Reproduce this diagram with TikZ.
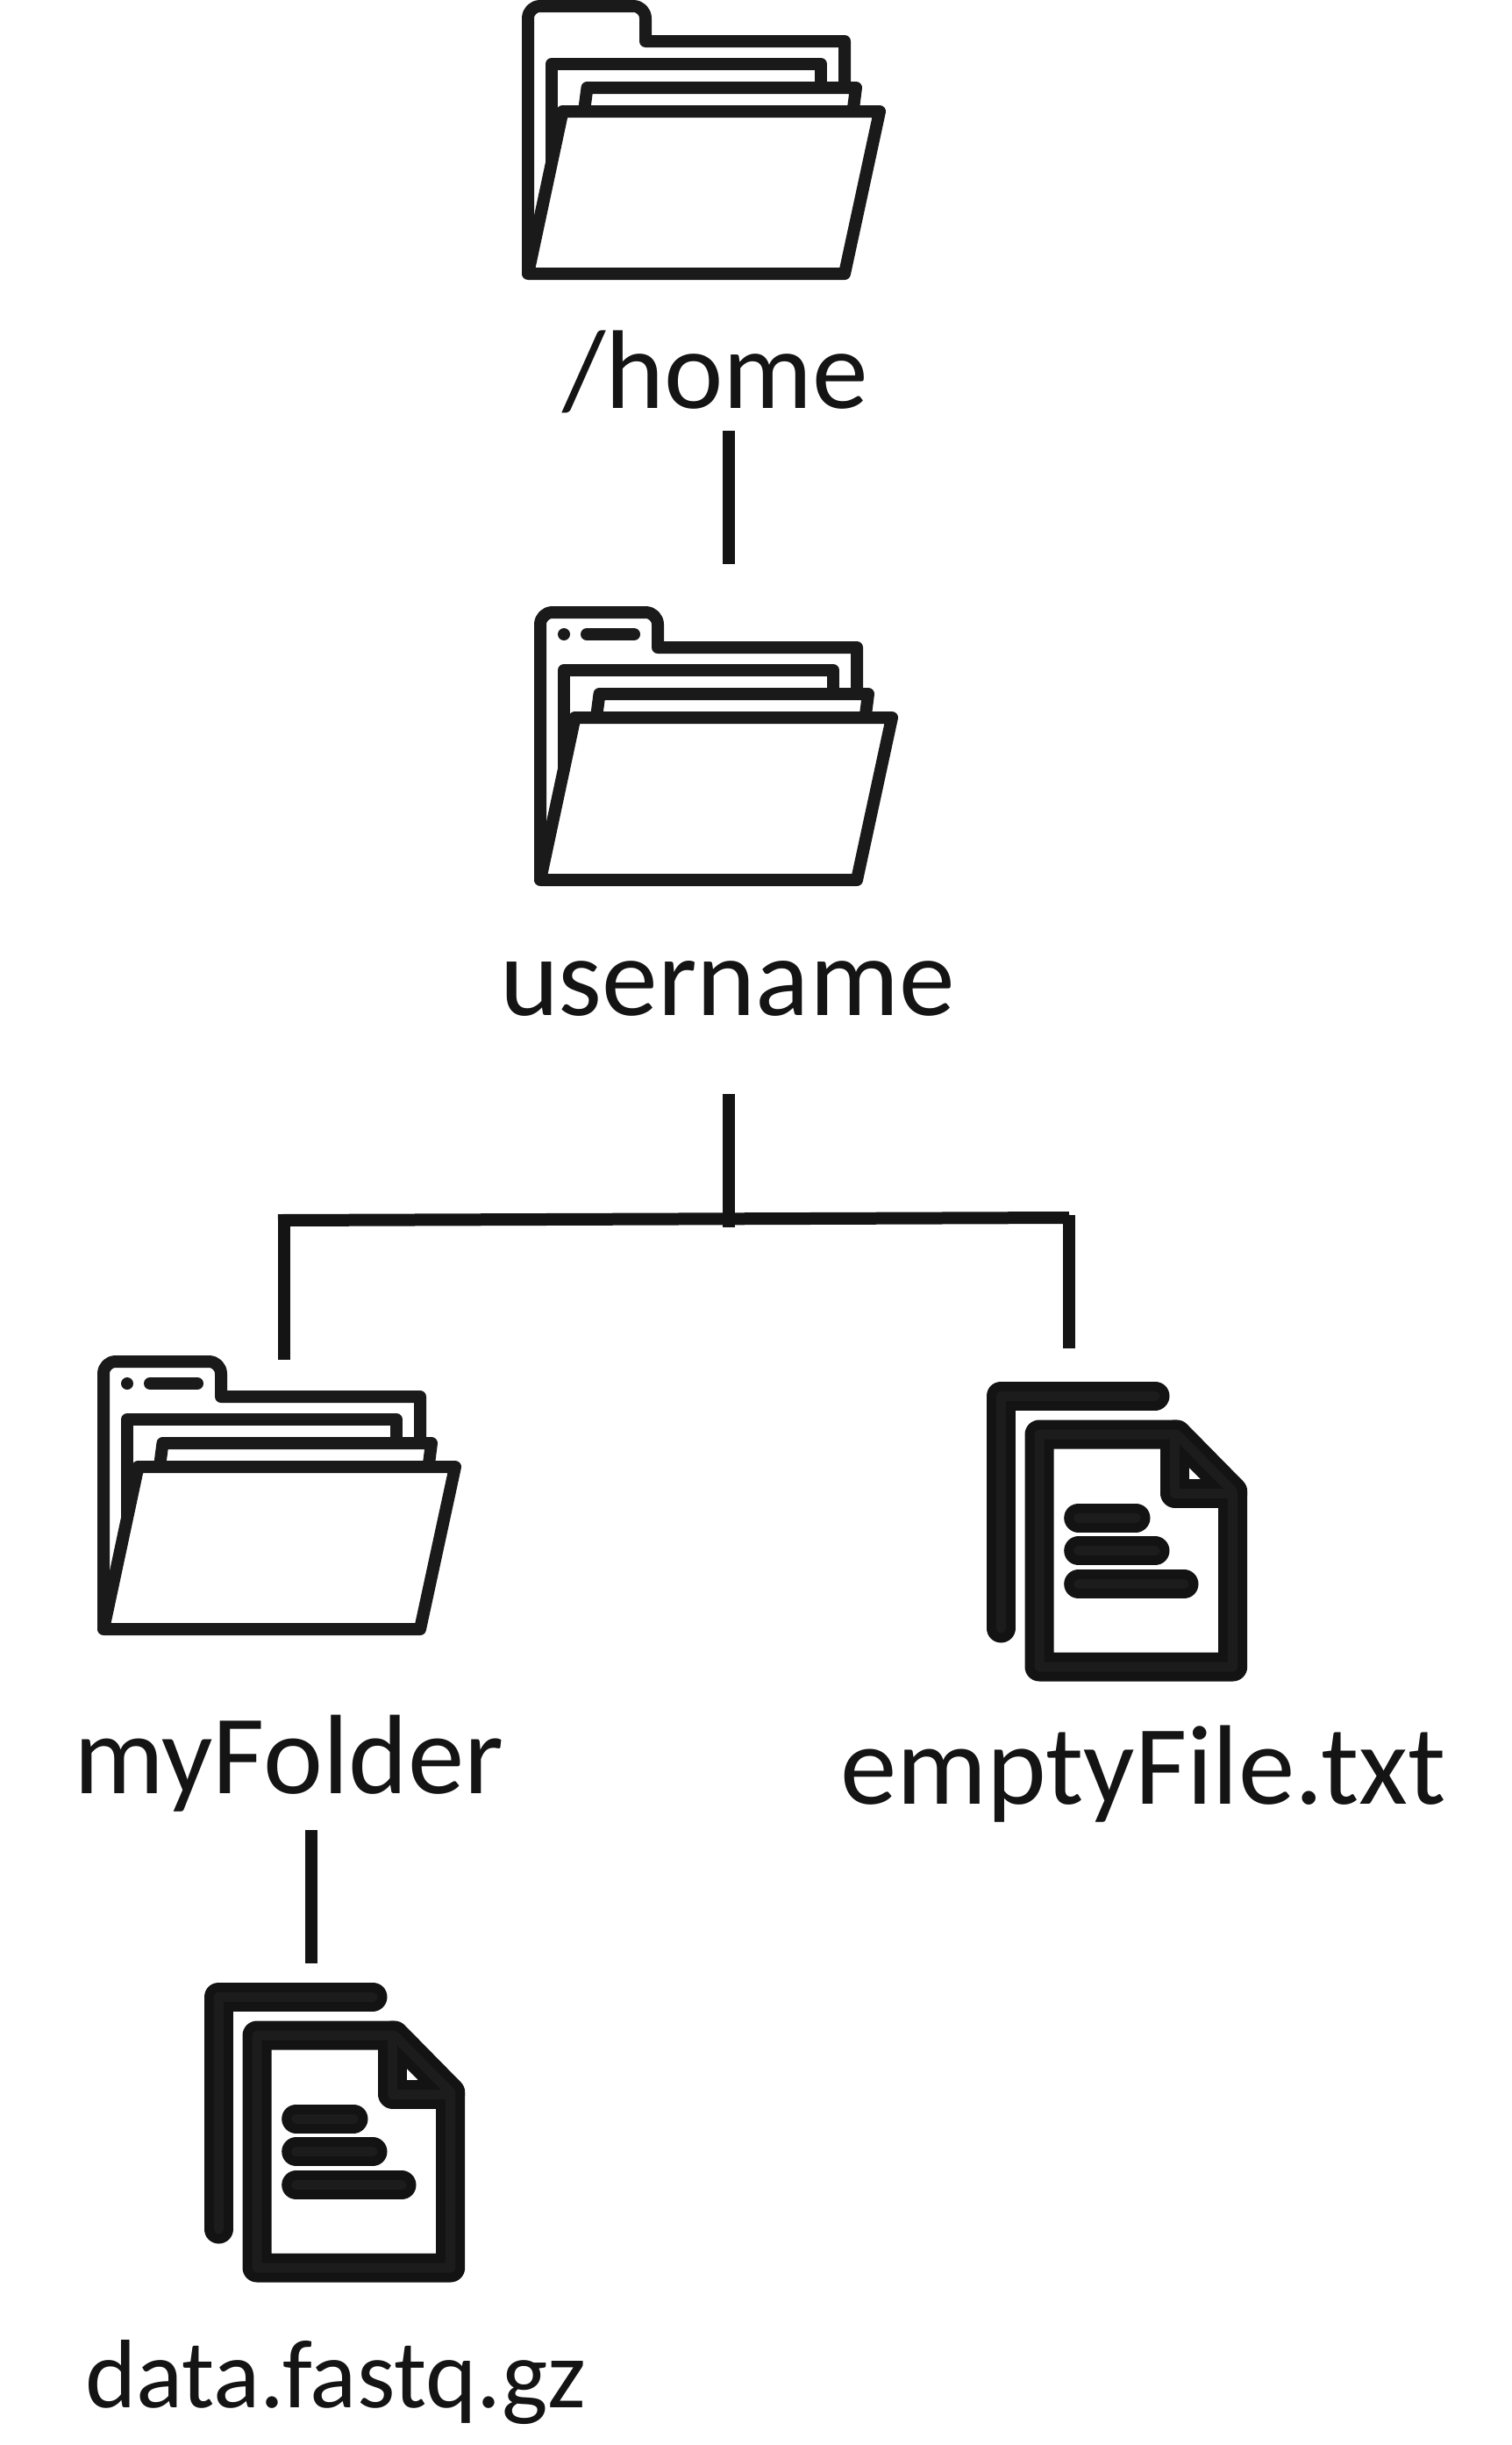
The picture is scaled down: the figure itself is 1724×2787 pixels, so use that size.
\documentclass[tikz,border=0pt]{standalone}
\usepackage{fontspec}
\setmainfont{Carlito}
\definecolor{ink}{HTML}{1A1A1A}
\definecolor{fileout}{HTML}{131313}
\definecolor{filein}{HTML}{1C1C1C}
\definecolor{wire}{HTML}{141414}
\tikzset{
  x=1pt,y=-1pt,
  iconline/.style={draw=ink,line width=14pt,line join=round,fill=white},
  label/.style={anchor=base west,inner sep=0pt,outer sep=0pt,text=wire,font=\fontsize{127.6}{127.6}\selectfont},
  wireline/.style={draw=wire,line width=14pt},
  folderbase/.pic={
    \draw[iconline] (0,0) -- (0,-291) .. controls (0,-299) and (6,-305) .. (14,-305) -- (120,-305) .. controls (128,-305) and (134,-299) .. (134,-291) -- (134,-265) -- (361,-265) -- (361,-190);
    \draw[iconline] (27,-126) -- (27,-239) -- (334,-239) -- (334,-190);
    \draw[iconline] (62,-170) -- (67.5,-212) -- (374,-212) -- (368.6,-170);
    \draw[iconline] (0,0) -- (39.5,-185) -- (401,-185) -- (361,0) -- cycle;
  },
  folderdots/.pic={
    \fill[ink] (27,-280) circle[radius=7pt];
    \draw[ink,line width=14pt,line cap=round] (53,-280) -- (107,-280);
  },
  filestroke/.style={line join=round,line cap=round},
  filepath/.pic={
    \draw[filestroke,pic actions] (41.3,306) -- (41.3,41) -- (217,41);
    \draw[filestroke,pic actions] (85,350) -- (85,85) -- (241.7,85) -- (305.7,150) -- (305.7,350) -- cycle;
    \draw[filestroke,pic actions] (239.7,85) -- (239.7,152) -- (305.7,152);
    \draw[filestroke,pic actions] (129.7,180) -- (195,180);
    \draw[filestroke,pic actions] (129.7,217.7) -- (217,217.7);
    \draw[filestroke,pic actions] (129.7,255.7) -- (250,255.7);
  },
  fileicon/.pic={
    \fill[white] (85,85) -- (241.7,85) -- (305.7,150) -- (305.7,350) -- (85,350) -- cycle;
    \pic[draw=fileout,line width=33pt] {filepath};
    \pic[draw=filein,line width=11pt] {filepath};
  },
}
\begin{document}
\begin{tikzpicture}
\useasboundingbox (0,0) rectangle (1724,2787);
\fill[white] (0,0) rectangle (1724,2787);

% icons
\pic (homeicon) at (602,312) {folderbase};
\pic (usericon) at (616,1003) {folderbase};
\pic (userdots) at (616,1003) {folderdots};
\pic (myicon) at (118,1857) {folderbase};
\pic (mydots) at (118,1857) {folderdots};
\pic (emptyicon) at (1100,1550) {fileicon};
\pic (dataicon) at (208,2235) {fileicon};

% labels
\node[label] (home) at (641,465) {/home};
\node[label] (username) at (570,1157) {username};
\node[label,font=\fontsize{128.8}{128.8}\selectfont] (myfolder) at (84,2044) {myFolder};
\node[label,font=\fontsize{129}{129}\selectfont] (emptyfile) at (958,2056) {emptyFile.txt};
\node[label,font=\fontsize{111}{111}\selectfont] (datafile) at (97,2744) {data.fastq.gz};

% connector ends
\coordinate (homeA) at (831,491);
\coordinate (homeB) at (831,643);
\coordinate (userA) at (831,1247);
\coordinate (userB) at (831,1399);
\coordinate (busL) at (317,1391);
\coordinate (busR) at (1219,1388);
\coordinate (leftA) at (324,1385);
\coordinate (leftB) at (324,1550);
\coordinate (rightA) at (1219,1385);
\coordinate (rightB) at (1219,1537);
\coordinate (myA) at (355,2086);
\coordinate (myB) at (355,2238);

% connectors
\draw[wireline] (homeA) -- (homeB);
\draw[wireline] (busL) -- (busR);
\draw[wireline] (userA) -- (userB);
\draw[wireline] (leftA) -- (leftB);
\draw[wireline] (rightA) -- (rightB);
\draw[wireline] (myA) -- (myB);
\end{tikzpicture}
\end{document}
